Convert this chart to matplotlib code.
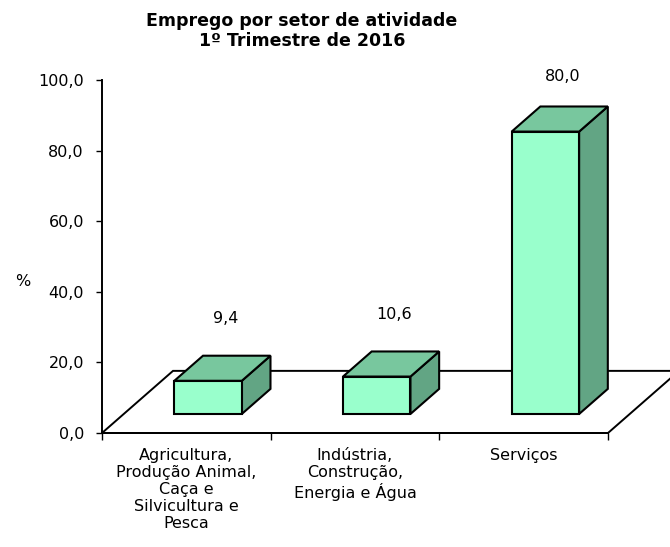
import matplotlib
matplotlib.use("Agg")
import matplotlib.pyplot as plt
from matplotlib.patches import Polygon

categories = ["Agricultura,\nProdução Animal,\nCaça e\nSilvicultura e\nPesca",
              "Indústria,\nConstrução,\nEnergia e Água",
              "Serviços"]
values = [9.4, 10.6, 80.0]
value_labels = ["9,4", "10,6", "80,0"]
yticks = [0, 20, 40, 60, 80, 100]
ytick_labels = ["0,0", "20,0", "40,0", "60,0", "80,0", "100,0"]

front_col = "#99FFCC"
top_col = "#78C79E"
side_col = "#62A584"

# pseudo 3d floor depth (in data units)
dx, dy = 0.421, 17.6
f_front, f_back = 0.306, 0.71
bw = 0.4

fig = plt.figure(figsize=(6.7, 5.47), dpi=100)
ax = fig.add_axes([102/670, 1-433/547, 506/670, 353/547])
ax.set_xlim(0, len(categories))
ax.set_ylim(0, 100)

# floor
floor = Polygon([(0, 0), (3, 0), (3+dx, dy), (dx, dy)], closed=True,
                facecolor="white", edgecolor="black", lw=1.4, clip_on=False, zorder=1)
ax.add_patch(floor)

for i, v in enumerate(values):
  x0 = i + 0.5 - bw/2
  fx, fy = x0 + f_front*dx, f_front*dy
  bx, by = x0 + f_back*dx, f_back*dy
  front = Polygon([(fx, fy), (fx+bw, fy), (fx+bw, fy+v), (fx, fy+v)],
                  facecolor=front_col, edgecolor="black", lw=1.5, clip_on=False, zorder=3)
  top = Polygon([(fx, fy+v), (fx+bw, fy+v), (bx+bw, by+v), (bx, by+v)],
                facecolor=top_col, edgecolor="black", lw=1.5, clip_on=False, zorder=3)
  side = Polygon([(fx+bw, fy), (bx+bw, by), (bx+bw, by+v), (fx+bw, fy+v)],
                 facecolor=side_col, edgecolor="black", lw=1.5, clip_on=False, zorder=3)
  for p in (side, top, front):
    ax.add_patch(p)
  ax.text(i + 0.5 + 0.55*dx, 0.97*v + 23.3, value_labels[i], ha="center", va="center",
          fontsize=11.5, clip_on=False)

ax.spines["top"].set_visible(False)
ax.spines["right"].set_visible(False)
ax.spines["left"].set_linewidth(1.4)
ax.spines["bottom"].set_linewidth(1.4)
ax.spines["left"].set_zorder(4)

ax.set_yticks(yticks)
ax.set_yticklabels(ytick_labels, fontsize=11.5)
ax.tick_params(axis="y", length=4, width=1, pad=9)

ax.set_xticks([0, 1, 2, 3])
ax.set_xticklabels([])
ax.set_xticks([0.5, 1.5, 2.5], minor=True)
ax.set_xticklabels(categories, minor=True, fontsize=11.5, linespacing=1.17, va="top")
ax.tick_params(axis="x", which="major", length=5, width=1)
ax.tick_params(axis="x", which="minor", length=0, pad=11)

ax.set_ylabel("%", rotation=0, fontsize=11.5, labelpad=0, va="center")
ax.yaxis.set_label_coords(-79/506, (433-281)/353)

fig.text(302/670, 1-31/547, "Emprego por setor de atividade\n1º Trimestre de 2016",
         ha="center", va="center", fontsize=12.5, fontweight="bold", linespacing=1.1)

plt.savefig("out.png", dpi=100)
